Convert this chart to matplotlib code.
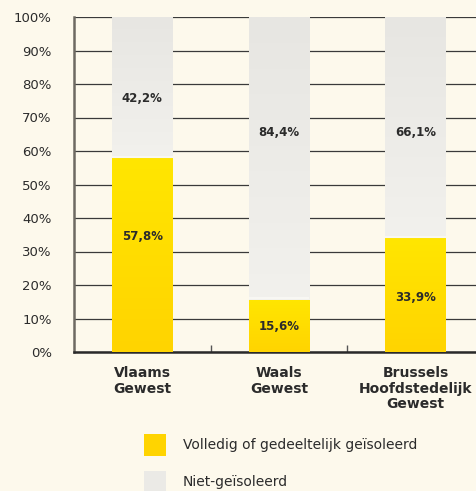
import matplotlib.pyplot as plt
import matplotlib.colors as mcolors
from matplotlib.patches import Rectangle
import numpy as np

# data
regions = ['Vlaams\nGewest', 'Waals\nGewest', 'Brussels\nHoofdstedelijk\nGewest']
isolated = [57.8, 15.6, 33.9]
not_isolated = [42.2, 84.4, 66.1]
series_labels = ['Volledig of gedeeltelijk geïsoleerd', 'Niet-geïsoleerd']

bg = '#fdf9ec'
yellow_top, yellow_bot = '#ffe600', '#ffd400'
grey_top, grey_bot = '#e7e6e2', '#f2f1ed'
txt = '#2b2b2b'

fig = plt.figure(figsize=(4.77, 4.91), dpi=100, facecolor=bg)
ax = fig.add_axes([74 / 477, 139 / 491, 410 / 477, 335 / 491])
ax.set_facecolor(bg)

x = np.arange(len(regions))
w = 0.445

b1 = ax.bar(x, isolated, w, color=yellow_bot, zorder=3, linewidth=0)
b2 = ax.bar(x, not_isolated, w, bottom=isolated, color=grey_bot, zorder=3,
            edgecolor='white', linewidth=0)


def gradient_fill(bars, c_top, c_bot):
    cmap = mcolors.LinearSegmentedColormap.from_list('g', [c_bot, c_top])
    grad = np.linspace(0, 1, 256).reshape(-1, 1)
    for bar in bars:
        x0, y0 = bar.get_x(), bar.get_y()
        im = ax.imshow(grad, extent=[x0, x0 + bar.get_width(), y0, y0 + bar.get_height()],
                       origin='lower', cmap=cmap, aspect='auto', zorder=4)
        im.set_clip_path(bar)


gradient_fill(b1, yellow_top, yellow_bot)
gradient_fill(b2, grey_top, grey_bot)

# thin light separation between the two segments
for xi, v in zip(x, isolated):
    ax.plot([xi - w / 2, xi + w / 2], [v + 0.4, v + 0.4], color='#f8f7f3', lw=1.5,
            zorder=5, solid_capstyle='butt')

# value labels
lab_yellow = [34.6, 7.6, 16.4]
lab_grey = [75.8, 65.4, 65.4]
for xi, v, ly in zip(x, isolated, lab_yellow):
    ax.text(xi, ly, f'{v:.1f}%'.replace('.', ','), ha='center', va='center',
            fontsize=8.5, fontweight='bold', color=txt, zorder=6)
for xi, v, ly in zip(x, not_isolated, lab_grey):
    ax.text(xi, ly, f'{v:.1f}%'.replace('.', ','), ha='center', va='center',
            fontsize=8.5, fontweight='bold', color=txt, zorder=6)

ax.set_xlim(-0.5, 2.5)
ax.set_ylim(0, 100)
ax.set_yticks(np.arange(0, 101, 10))
ax.set_yticklabels([f'{t}%' for t in range(0, 101, 10)], fontsize=9.5, color=txt)
ax.yaxis.grid(True, color='#3a3a3a', lw=0.9, zorder=1)
ax.set_axisbelow(True)
ax.tick_params(axis='y', length=0, pad=16)

ax.set_xticks(x)
ax.set_xticklabels(regions, fontsize=10, fontweight='bold', color=txt, linespacing=1.15)
ax.set_xticks([0.5, 1.5], minor=True)
ax.tick_params(axis='x', which='major', length=0, pad=10)
ax.tick_params(axis='x', which='minor', direction='in', length=5, width=1, color='#555555')

for s in ['top', 'right']:
    ax.spines[s].set_visible(False)
ax.spines['left'].set_color('#6e6a62')
ax.spines['left'].set_linewidth(1.8)
ax.spines['bottom'].set_color('#2a2a2a')
ax.spines['bottom'].set_linewidth(1.8)
ax.spines['left'].set_zorder(2)

# legend
leg_colors = [yellow_bot, '#ebeae6']
for i, (lab, c) in enumerate(zip(series_labels, leg_colors)):
    y0 = 491 - 456 - i * 37
    fig.add_artist(Rectangle((144 / 477, y0 / 491), 22 / 477, 22 / 491,
                             transform=fig.transFigure, color=c, lw=0))
    fig.text(183 / 477, (y0 + 11) / 491, lab, ha='left', va='center',
             fontsize=10, color=txt)

fig.savefig('out.png', dpi=100, facecolor=bg)
